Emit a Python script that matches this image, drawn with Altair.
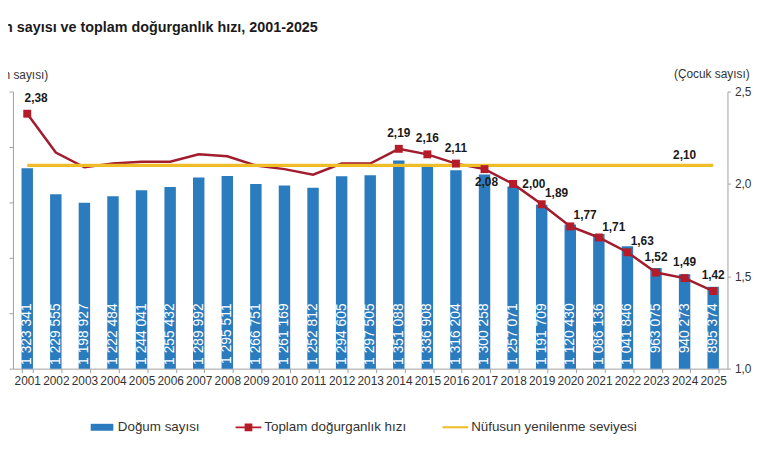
import altair as alt
import pandas as pd

# ---------------- data ----------------
years = [str(y) for y in range(2001, 2026)]
births = [1323341, 1229555, 1198927, 1222484, 1244041, 1255432, 1289992, 1295511,
          1266751, 1261169, 1252812, 1294605, 1297505, 1351088, 1336908, 1316204,
          1300258, 1257071, 1191709, 1120430, 1086136, 1041846, 963075, 940273, 895374]
tfr = [2.38, 2.17, 2.09, 2.11, 2.12, 2.12, 2.16, 2.15, 2.10, 2.08, 2.05, 2.11, 2.11,
       2.19, 2.16, 2.11, 2.08, 2.00, 1.89, 1.77, 1.71, 1.63, 1.52, 1.49, 1.42]
replacement = 2.10
marked_years = ["2001"] + [str(y) for y in range(2014, 2026)]
left_ticks = [600000, 800000, 1000000, 1200000, 1400000, 1600000]
right_ticks = [1.0, 1.5, 2.0, 2.5]
series = ["Doğum sayısı", "Toplam doğurganlık hızı", "Nüfusun yenilenme seviyesi"]
title_text = "Doğum sayısı ve toplam doğurganlık hızı, 2001-2025"

LEFT_MIN, LEFT_MAX = 600000, 1600000
RIGHT_MIN, RIGHT_MAX = 1.0, 2.5

BLUE = "#2b7bbf"
RED_LINE = "#a11c2d"
RED_MARK = "#b51b28"
YELLOW = "#efbd2a"
FONT = "Liberation Sans"
AXIS_GRAY = "#a0a0a0"
TEXT_GRAY = "#333333"

df = pd.DataFrame({
    "year": years,
    "births": births,
    "births_label": [f"{v:,}".replace(",", " ") for v in births],
    "tfr": tfr,
    "tfr_label": [f"{v:.2f}".replace(".", ",") for v in tfr],
    "repl": [replacement] * len(years),
    "repl_label": [f"{replacement:.2f}".replace(".", ",")] * len(years),
    "bottom": [LEFT_MIN] * len(years),
})
legend_df = pd.DataFrame({"series": series})

# ---------------- shared scales / axes ----------------
x_scale = alt.Scale(paddingInner=0.6, paddingOuter=0.3)
x_axis = alt.Axis(title=None, labelAngle=0, tickBand="extent", domainColor=AXIS_GRAY,
                  tickColor=AXIS_GRAY, tickSize=4, labelFontSize=12, labelColor=TEXT_GRAY,
                  labelPadding=3, labelFont=FONT, grid=False)


def X():
    return alt.X("year:O", sort=years, scale=x_scale, axis=x_axis)


left_scale = alt.Scale(domain=[LEFT_MIN, LEFT_MAX], nice=False, zero=False)
left_axis = alt.Axis(values=left_ticks, grid=False, title="(Doğum sayısı)",
                     titleAngle=0, titleAlign="left", titleBaseline="alphabetic",
                     titleX=-46, titleY=-13, titleFontSize=12, titleFontWeight="normal",
                     titleColor=TEXT_GRAY, titleFont=FONT,
                     labelExpr="replace(format(datum.value, ','), /,/g, ' ')",
                     labelFontSize=12, labelColor=TEXT_GRAY, labelFont=FONT,
                     tickSize=4, tickColor=AXIS_GRAY, domainColor=AXIS_GRAY)

right_scale = alt.Scale(domain=[RIGHT_MIN, RIGHT_MAX], nice=False, zero=False)
right_axis = alt.Axis(orient="right", values=right_ticks, grid=False,
                      title="(Çocuk sayısı)", titleAngle=0, titleAlign="right",
                      titleBaseline="alphabetic", titleX=22, titleY=-14,
                      titleFontSize=12, titleFontWeight="normal",
                      titleColor=TEXT_GRAY, titleFont=FONT,
                      labelExpr="replace(format(datum.value, '.1f'), '.', ',')",
                      labelFontSize=12, labelColor=TEXT_GRAY, labelFont=FONT,
                      labelPadding=4, tickSize=3, tickColor=AXIS_GRAY,
                      domainColor=AXIS_GRAY)


def YL(field):
    return alt.Y(field, scale=left_scale, axis=left_axis, title="(Doğum sayısı)")


def YR(field):
    return alt.Y(field, scale=right_scale, axis=right_axis, title="(Çocuk sayısı)")


base = alt.Chart(df)

# ---------------- left (births) ----------------
bars = base.mark_bar(color=BLUE).encode(
    x=X(),
    y=YL("births:Q"),
    y2=alt.Y2("bottom"),
)

bar_labels = base.mark_text(angle=270, align="right", baseline="middle", dx=66,
                            color="white", fontSize=14, font=FONT).encode(
    x=X(),
    y=YL("bottom:Q"),
    text="births_label:N",
)

left = alt.layer(bars, bar_labels)

# ---------------- right (fertility) ----------------
line = base.mark_line(color=RED_LINE, strokeWidth=2.5).encode(x=X(), y=YR("tfr:Q"))
repl_line = base.mark_line(color=YELLOW, strokeWidth=3.2).encode(x=X(), y=YR("repl:Q"))

marked = base.transform_filter(alt.FieldOneOfPredicate(field="year", oneOf=marked_years))
markers = marked.mark_square(size=64, color=RED_MARK, opacity=1).encode(x=X(), y=YR("tfr:Q"))

lab_style = dict(fontSize=12, fontWeight="bold", color="#1a1a1a", font=FONT)


def tfr_labels(yrs, dx, dy):
    return base.transform_filter(
        alt.FieldOneOfPredicate(field="year", oneOf=yrs)
    ).mark_text(dx=dx, dy=dy, **lab_style).encode(x=X(), y=YR("tfr:Q"), text="tfr_label:N")


labels = [
    tfr_labels(["2001"], 9, -16),
    tfr_labels(["2014", "2015", "2016", "2023", "2024", "2025"], 0, -16),
    tfr_labels(["2017"], 2, 13),
    tfr_labels(["2018"], 21, 0),
    tfr_labels(["2019", "2020", "2021", "2022"], 15, -11),
]

repl_label = base.transform_filter(alt.datum.year == "2024").mark_text(
    dy=-10, **lab_style).encode(x=X(), y=YR("repl:Q"), text="repl_label:N")

right = alt.layer(line, repl_line, markers, *labels, repl_label)

# ---------------- legend ----------------
bar_path = "M-0.88,-0.27H0.88V0.27H-0.88Z"
red_path = "M-1,-0.07H1V0.07H-1Z M-0.3,-0.3H0.3V0.3H-0.3Z"
yel_path = "M-1,-0.08H1V0.08H-1Z"

leg = alt.Legend(title=None, orient="none", legendX=77, legendY=326, direction="horizontal",
                 symbolSize=676, symbolStrokeWidth=0, symbolOpacity=1, labelFontSize=13.5,
                 labelColor=TEXT_GRAY, labelFont=FONT, labelOffset=3, columnPadding=36,
                 labelLimit=400)

legend_layer = alt.Chart(legend_df).mark_point(filled=True, opacity=0).encode(
    color=alt.Color("series:N", scale=alt.Scale(domain=series, range=[BLUE, RED_MARK, YELLOW]),
                    legend=leg),
    shape=alt.Shape("series:N", scale=alt.Scale(domain=series, range=[bar_path, red_path, yel_path]),
                    legend=leg),
)

chart = alt.layer(left, right, legend_layer).resolve_scale(y="independent").properties(
    width=722,
    height=280,
    autosize=alt.AutoSizeParams(type="none"),
    padding={"left": 5, "top": 82, "right": 45, "bottom": 100},
    title=alt.TitleParams(text=title_text, anchor="start", frame="group", dx=-50,
                          offset=33, fontSize=14.5, fontWeight="bold", color="#1a1a1a",
                          font=FONT),
).configure_view(stroke=None)

chart.save("out.html", embed_options={"renderer": "svg", "actions": False})
